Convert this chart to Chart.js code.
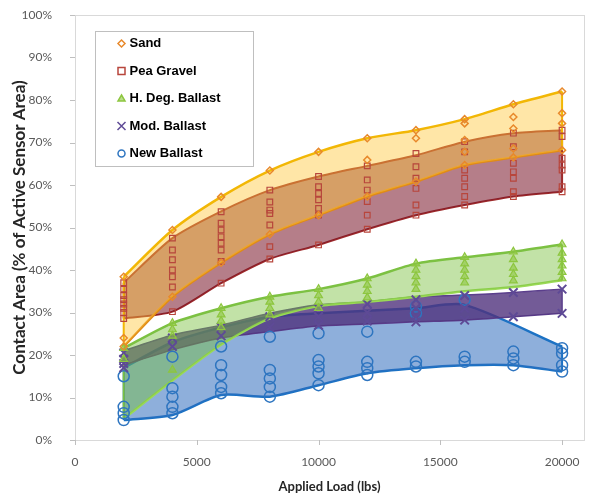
<!DOCTYPE html>
<html>
<head>
<meta charset="utf-8">
<script src="https://cdn.jsdelivr.net/npm/chart.js@4.4.0/dist/chart.umd.min.js"></script>
<style>
  html, body { margin: 0; padding: 0; background: #fff; }
  #wrap { width: 592px; height: 497px; }
</style>
</head>
<body>
<div id="wrap"><canvas id="contactChart" width="592" height="497"></canvas></div>
<script>
// applied loads (lbs)
const loads = [2000, 4000, 6000, 8000, 10000, 12000, 14000, 16000, 18000, 20000]
const materials = ['Sand', 'Pea Gravel', 'H. Deg. Ballast', 'Mod. Ballast', 'New Ballast']

// measured contact area (%) - one list per load
const sandPts = [
  [38.4, 24, 22], [49.4, 33.7], [57.2, 41.7], [63.4, 48.4], [67.8, 52.9],
  [71, 65.9, 57.3], [72.9, 71, 60.8], [75.5, 74.5, 70.6, 67.8, 64.7],
  [79, 76, 73.3, 68.6, 66.5], [82, 76.9, 74.5, 68.2]
]
const peaPts = [
  [37, 35.5, 34, 33, 32, 31, 30, 28.6],
  [47.5, 44.7, 42.4, 40, 38.4, 36, 30.2],
  [53.7, 51, 49.4, 47.8, 46.3, 44.7, 42, 36.9],
  [58.8, 56, 54.1, 53.3, 50.6, 45.5, 42.6],
  [62, 59.6, 58, 56.5, 54.5, 52.9, 45.9],
  [64.5, 61.2, 58.8, 56.1, 52.9, 49.6],
  [67.4, 64.3, 61.6, 59.2, 55.3, 52.9],
  [70.2, 67.8, 63.5, 61.6, 59.6, 57.3, 55.3],
  [72.2, 69, 65.1, 63.1, 61.6, 58.4, 57.3],
  [72.9, 71.4, 66.3, 64.7, 63.5, 59.6, 58.4]
]
const hdegPts = [
  [21.6, 19], [27.5, 26, 24.5, 16.5], [31, 29.5, 28, 26.5], [33.7, 32.5, 31, 29.5],
  [35.5, 34, 32.5, 31], [38, 36.5, 35, 33.5], [41.5, 40, 38.5, 37, 35.5],
  [43, 41.5, 40, 38.5, 37], [44.3, 42.5, 40.5, 39, 37.5], [46, 44, 42.5, 41, 39.5, 38]
]
const modPts = [
  [20.5, 19, 18, 17], [24, 22], [26.5, 24.5], [29, 26.5], [31, 29, 27],
  [32, 30, 28], [33, 31, 29, 27.8], [34, 31, 28.2], [34.7, 29], [35.5, 29.8]
]
const newPts = [
  [15, 7.8, 6.3, 4.7], [19.6, 12.2, 10.2, 7.8, 6.3], [22, 17.6, 15.3, 12.5, 11],
  [24.3, 16.5, 14.5, 12.5, 10.2], [25.1, 18.8, 17.3, 15.7, 12.9], [25.5, 18.4, 16.9, 15.3],
  [31.4, 29.8, 18.4, 17.3], [33, 19.6, 18.4], [20.8, 19.2, 17.6], [21.6, 20.4, 17.6, 16.1]
]

// envelope lines (%)
const sandUpper = [38.4, 49.4, 57.2, 63.4, 67.8, 71, 72.9, 75.5, 79, 82]
const sandLower = [22, 33.7, 41.7, 48.4, 52.9, 57.3, 60.8, 64.7, 66.5, 68.2]
const peaUpper = [37, 47.5, 53.8, 58.8, 62, 64.5, 67, 70.2, 72.2, 72.9]
const peaLower = [28.6, 30.2, 36.9, 42.6, 45.9, 49.6, 52.9, 55.3, 57.3, 58.4]
const hdegUpper = [21.6, 27.5, 31, 33.7, 35.5, 38, 41.5, 43, 44.3, 46]
const hdegLower = [5, 14, 22.4, 28.6, 31.5, 32.5, 33.7, 35, 36, 37.6]
const modUpper = [21, 24.7, 27, 29.8, 31.8, 32.5, 33.7, 34.1, 34.7, 35.5]
const modLower = [17.6, 21.2, 24, 25.5, 26.8, 27.3, 27.8, 28.2, 29, 29.8]
const newUpperLoads = [2000, 4000, 6000, 8000, 10000, 12000, 14000, 16000, 20000]
const newUpper = [17, 23, 26.5, 29, 29.8, 30.4, 31, 31.8, 22]
const newLower = [4.7, 5.9, 10.6, 10.2, 12.9, 15.7, 16.9, 17.6, 17.6, 16.1]

// x axis tick labels
const loadTicks = [0, 5000, 10000, 15000, 20000]

const toXY = (xs, ys) => ys.map((y, i) => ({ x: xs[i], y }))
const spread = (lists) => lists.flatMap((vals, i) => vals.map(v => ({ x: loads[i], y: v })))

// marker looks, same order as materials
const markers = [
  { style: 'rectRot', color: '#E8892B', fill: 'rgba(255,255,255,0)', r: 3.5, w: 1.5 },
  { style: 'rect', color: '#B8463C', fill: 'rgba(255,255,255,0)', r: 4, w: 1.2 },
  { style: 'triangle', color: '#8DC63F', fill: 'rgba(141,198,63,0.6)', r: 4.5, w: 1.2 },
  { style: 'crossRot', color: '#5E4A96', fill: 'rgba(0,0,0,0)', r: 6, w: 2 },
  { style: 'circle', color: '#2E75C0', fill: 'rgba(255,255,255,0)', r: 5.5, w: 1.5 }
]

function pointSet (name, lists, m) {
  return {
    label: name,
    data: spread(lists),
    showLine: false,
    pointStyle: m.style,
    pointRadius: m.r,
    pointBorderColor: m.color,
    pointBackgroundColor: m.fill,
    pointBorderWidth: m.w
  }
}

function band (name, xsU, upper, xsL, lower, lineU, lineL, fillColor, width) {
  return [
    { label: name + ' upper', data: toXY(xsU, upper), borderColor: lineU, borderWidth: width, backgroundColor: fillColor, fill: '+1', pointRadius: 0, tension: 0.25 },
    { label: name + ' lower', data: toXY(xsL, lower), borderColor: lineL, borderWidth: width, fill: false, pointRadius: 0, tension: 0.25 }
  ]
}

function edges (name, xsU, upper, xsL, lower, color, width) {
  const last = upper.length - 1
  const lastL = lower.length - 1
  return [
    { label: name + ' left', data: [{ x: xsU[0], y: upper[0] }, { x: xsL[0], y: lower[0] }], borderColor: color, borderWidth: width, pointRadius: 0, fill: false },
    { label: name + ' right', data: [{ x: xsU[last], y: upper[last] }, { x: xsL[lastL], y: lower[lastL] }], borderColor: color, borderWidth: width, pointRadius: 0, fill: false }
  ]
}

const datasets = [
  pointSet('Sand', sandPts, markers[0]),
  pointSet('Pea Gravel', peaPts, markers[1]),
  pointSet('H. Deg. Ballast', hdegPts, markers[2]),
  pointSet('Mod. Ballast', modPts, markers[3]),
  pointSet('New Ballast', newPts, markers[4]),
  ...edges('sand', loads, sandUpper, loads, sandLower, '#F2B705', 2),
  ...edges('pea', loads, peaUpper, loads, peaLower, '#9E2A2B', 2),
  ...edges('hdeg', loads, hdegUpper, loads, hdegLower, '#7CC142', 2),
  ...edges('mod', loads, modUpper, loads, modLower, '#5B3F8C', 1.5),
  ...edges('new', newUpperLoads, newUpper, loads, newLower, '#1C72C4', 2),
  ...band('sand', loads, sandUpper, loads, sandLower, '#F2B705', '#E08B18', 'rgba(255,200,60,0.45)', 2.5),
  ...band('pea', loads, peaUpper, loads, peaLower, '#9E2A2B', '#9E2A2B', 'rgba(120,20,40,0.55)', 2),
  ...band('hdeg', loads, hdegUpper, loads, hdegLower, '#7CC142', '#9BDA57', 'rgba(120,190,60,0.45)', 2.5),
  ...band('mod', loads, modUpper, loads, modLower, '#5B3F8C', '#5B3F8C', 'rgba(80,50,125,0.8)', 1.5),
  ...band('new', newUpperLoads, newUpper, loads, newLower, '#1C72C4', '#1C72C4', 'rgba(50,110,190,0.55)', 2.5)
]

function drawMarker (ctx, m, x, y, r) {
  ctx.save()
  ctx.strokeStyle = m.color
  ctx.fillStyle = m.fill
  ctx.lineWidth = m.w
  ctx.beginPath()
  if (m.style === 'rectRot') {
    ctx.moveTo(x, y - r); ctx.lineTo(x + r, y); ctx.lineTo(x, y + r); ctx.lineTo(x - r, y); ctx.closePath()
  } else if (m.style === 'rect') {
    ctx.rect(x - r, y - r, 2 * r, 2 * r)
  } else if (m.style === 'triangle') {
    ctx.moveTo(x, y - r); ctx.lineTo(x + r, y + r * 0.7); ctx.lineTo(x - r, y + r * 0.7); ctx.closePath()
  } else if (m.style === 'crossRot') {
    ctx.moveTo(x - r, y - r); ctx.lineTo(x + r, y + r); ctx.moveTo(x + r, y - r); ctx.lineTo(x - r, y + r)
  } else {
    ctx.arc(x, y, r, 0, Math.PI * 2)
  }
  if (m.style !== 'crossRot') ctx.fill()
  ctx.stroke()
  ctx.restore()
}

const axisGray = '#BFBFBF'

// light frame round the plot area + short outside tick marks
const plotFrame = {
  id: 'plotFrame',
  beforeDatasetsDraw (chart) {
    const { ctx, chartArea: a, scales } = chart
    ctx.save()
    ctx.strokeStyle = '#D9D9D9'
    ctx.lineWidth = 1
    ctx.strokeRect(Math.round(a.left) + 0.5, Math.round(a.top) + 0.5, Math.round(a.right - a.left), Math.round(a.bottom - a.top))
    ctx.strokeStyle = axisGray
    ctx.beginPath()
    scales.y.ticks.forEach(t => {
      const py = Math.round(scales.y.getPixelForValue(t.value)) + 0.5
      ctx.moveTo(a.left - 5, py); ctx.lineTo(a.left, py)
    })
    scales.x.ticks.forEach(t => {
      const px = Math.round(scales.x.getPixelForValue(t.value)) + 0.5
      ctx.moveTo(px, a.bottom); ctx.lineTo(px, a.bottom + 5)
    })
    ctx.stroke()
    ctx.restore()
  }
}

// boxed legend inside the plot, like the excel one
const legendBox = {
  id: 'legendBox',
  afterDraw (chart) {
    const { ctx, chartArea } = chart
    const x0 = Math.round(chartArea.left) + 20
    const y0 = Math.round(chartArea.top) + 16
    ctx.save()
    ctx.fillStyle = '#fff'
    ctx.fillRect(x0, y0, 158, 135)
    ctx.strokeStyle = '#BFBFBF'
    ctx.lineWidth = 1
    ctx.strokeRect(x0 + 0.5, y0 + 0.5, 158, 135)
    ctx.font = 'bold 13px "Liberation Sans", Arial, sans-serif'
    ctx.textBaseline = 'middle'
    materials.forEach((name, i) => {
      const y = y0 + 12.5 + i * 27.5
      const m = Object.assign({}, markers[i], { w: 1.5 })
      drawMarker(ctx, m, x0 + 26.5, y, i === 3 ? 4 : 3.5)
      ctx.fillStyle = '#000'
      ctx.fillText(name, x0 + 34.5, y)
    })
    ctx.restore()
  }
}

const tickFont = { family: 'Lato', size: 12 }

new Chart(document.getElementById('contactChart'), {
  type: 'line',
  data: { datasets },
  plugins: [plotFrame, legendBox],
  options: {
    responsive: false,
    animation: false,
    layout: { padding: { top: 15, right: 4, left: 0, bottom: 0 } },
    plugins: {
      legend: { display: false },
      tooltip: { enabled: false }
    },
    scales: {
      x: {
        type: 'linear',
        min: 0,
        max: 20900,
        ticks: { autoSkip: false, callback: (v) => String(v), color: '#595959', font: tickFont, padding: 3, maxRotation: 0 },
        afterBuildTicks: (s) => { s.ticks = loadTicks.map(v => ({ value: v })) },
        grid: { drawOnChartArea: false, drawTicks: true, tickLength: 12, tickColor: 'rgba(0,0,0,0)', color: axisGray },
        border: { color: axisGray },
        title: { display: true, text: 'Applied Load (lbs)', color: '#262626', font: { family: 'Lato', size: 13, weight: 'bold' }, padding: { top: 2, bottom: 2 } },
        afterFit: (s) => { s.height = 57 }
      },
      y: {
        min: 0,
        max: 100,
        ticks: { stepSize: 10, callback: (v) => v + '%', color: '#595959', font: tickFont, padding: 3 },
        grid: { drawOnChartArea: false, drawTicks: true, tickLength: 20, tickColor: 'rgba(0,0,0,0)', color: axisGray },
        border: { color: axisGray },
        title: { display: true, text: 'Contact Area (% of Active Sensor Area)', color: '#262626', font: { family: 'Lato', size: 17, weight: 'bold' }, padding: { top: 9, bottom: 0 } },
        afterFit: (s) => { s.width = 75 }
      }
    }
  }
})
</script>
</body>
</html>
